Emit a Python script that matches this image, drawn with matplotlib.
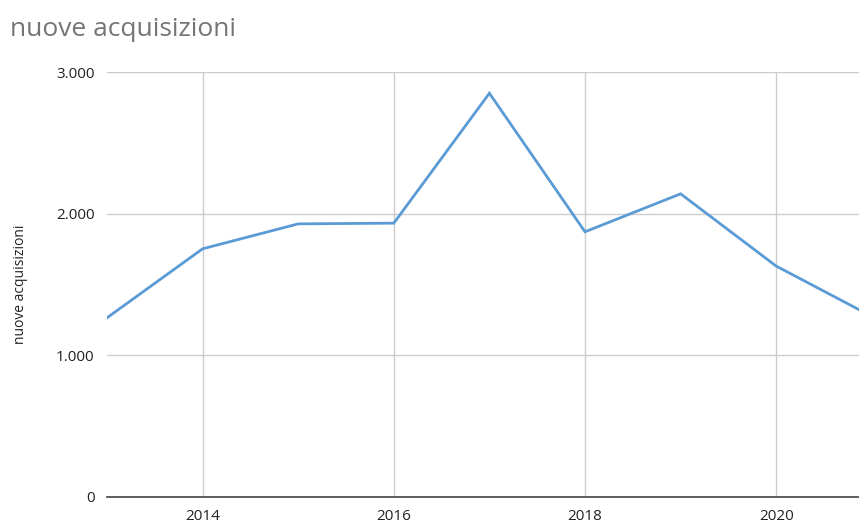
import matplotlib.pyplot as plt
from matplotlib.ticker import FuncFormatter

years = [2013, 2014, 2015, 2016, 2017, 2018, 2019, 2020, 2021]
acquisizioni = [1265, 1752, 1928, 1933, 2850, 1872, 2140, 1630, 1275]

plt.rcParams['font.family'] = ['Open Sans', 'DejaVu Sans']

fig = plt.figure(figsize=(8.59, 5.23), dpi=100)
ax = fig.add_axes([107 / 859, 26 / 523, 752 / 859, 425 / 523])

ax.plot(years, acquisizioni, color='#5b9bd5', linewidth=2.0, solid_joinstyle='miter')

ax.set_xlim(2013, 2013 + 752 / 95.6)
ax.set_ylim(0, 3000)
ax.set_xticks([2014, 2016, 2018, 2020])
ax.set_yticks([0, 1000, 2000, 3000])
ax.yaxis.set_major_formatter(FuncFormatter(lambda v, p: f'{int(v):,}'.replace(',', '.')))

ax.grid(True, color='#cccccc', linewidth=1.0)
ax.set_axisbelow(True)
for s in ['top', 'right', 'left']:
    ax.spines[s].set_visible(False)
ax.spines['bottom'].set_color('#444444')
ax.spines['bottom'].set_linewidth(1.2)
ax.tick_params(axis='both', length=0, labelsize=11, labelcolor='#222222')
ax.tick_params(axis='y', pad=9)
ax.tick_params(axis='x', pad=9)

ax.set_ylabel('nuove acquisizioni', fontsize=10, color='#222222', labelpad=20)
fig.text(10 / 859, 1 - 30 / 523, 'nuove acquisizioni', fontsize=19, color='#757575',
         ha='left', va='center')

fig.savefig('out.png', dpi=100)
